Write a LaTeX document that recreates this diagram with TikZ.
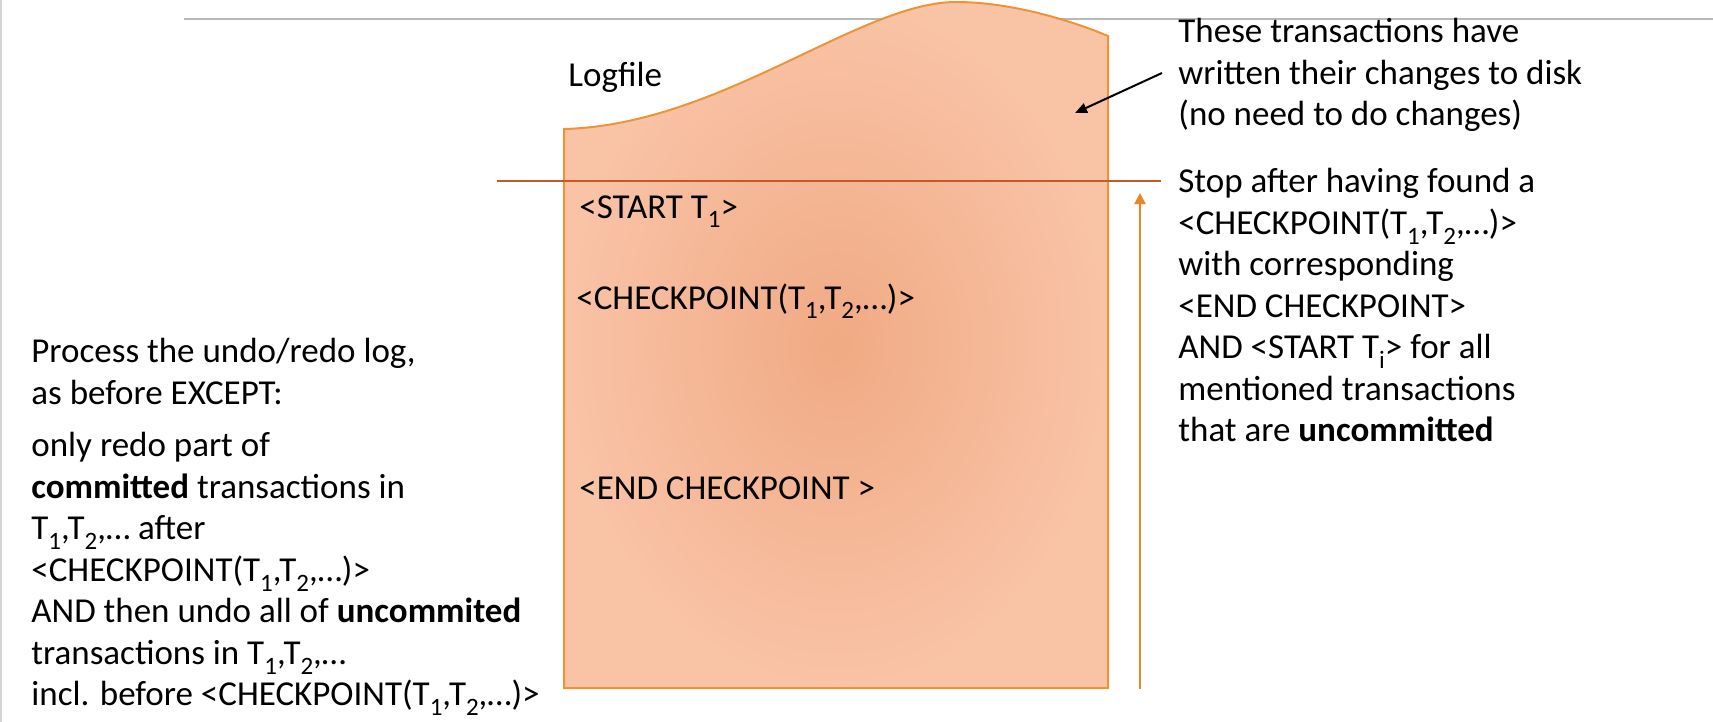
\documentclass[tikz,border=0pt]{standalone}
\usepackage{fontspec}
\setmainfont{Carlito}
\usetikzlibrary{arrows.meta}
\definecolor{logfill}{RGB}{249,195,166}
\definecolor{logcore}{RGB}{240,170,132}
\definecolor{logedge}{RGB}{238,148,55}
\definecolor{cutbrown}{RGB}{197,90,40}
\definecolor{scanorange}{RGB}{234,134,38}
\definecolor{rulegray}{RGB}{185,185,185}
\newcommand{\tsub}[1]{\raisebox{-0.28em}{\fontsize{12.5}{12}\selectfont #1}}
\newcommand{\ckpt}{<CHECKPOINT(T\tsub{1},T\tsub{2},…)>}

\begin{document}
\begin{tikzpicture}[x=0.5pt, y=-0.5pt,
  txt/.style={anchor=north west, inner sep=0pt, align=left,
              font=\fontsize{17.5}{20.75}\selectfont},
  cutline/.style={cutbrown, line width=1.1pt},
  scanarrow/.style={-{Triangle[length=5.5pt, width=5.5pt]}, scanorange, line width=1pt},
  notearrow/.style={-{Triangle[length=6pt, width=5pt]}, black, line width=1pt},
]
  \useasboundingbox (0,0) rectangle (1713,722);
  % slide frame
  \draw[rulegray, line width=1pt] (184,19) -- (1713,19);
  \draw[rulegray!60, line width=1pt] (1,0) -- (1,722);
  % the log file
  \path[draw=logedge, line width=1pt, inner color=logcore, outer color=logfill]
    (564,688) -- (564,129)
    .. controls (720,125) and (860,2) .. (956,2)
    .. controls (1010,2) and (1070,20) .. (1108,36)
    -- (1108,688) -- cycle;
  \node[txt] (logname) at (568,62) {Logfile};
  \node[txt] (start) at (579,195) {<START T\tsub{1}>};
  \node[txt] (ckpt) at (576,283) {\ckpt};
  \node[txt] (endckpt) at (579,476) {<END CHECKPOINT >};
  % cut and scan direction
  \coordinate (cutL) at (497,181);
  \coordinate (cutR) at (1161,181);
  \draw[cutline] (cutL) -- (cutR);
  \coordinate (scanB) at (1140,689);
  \coordinate (scanT) at (1140,193);
  \draw[scanarrow] (scanB) -- (scanT);
  % notes on the right
  \node[txt] (written) at (1178,18)
    {These transactions have\\
     written their changes to disk\\
     (no need to do changes)};
  \coordinate (noteFrom) at (1162,73);
  \coordinate (noteTip) at (1075,113);
  \draw[notearrow] (noteFrom) -- (noteTip);
  \node[txt] (stop) at (1178,168)
    {Stop after having found a\\
     \ckpt\\
     with corresponding\\
     <END CHECKPOINT>\\
     AND <START T\tsub{i}> for all\\
     mentioned transactions\\
     that are \textbf{uncommitted}};
  % note on the left
  \node[txt] (process) at (31,338)
    {Process the undo/redo log,\\
     as before EXCEPT:\\[5.5pt]
     only redo part of\\
     \textbf{committed} transactions in\\
     T\tsub{1},T\tsub{2},… after\\
     \ckpt\\
     AND then undo all of \textbf{uncommited}\\
     transactions in T\tsub{1},T\tsub{2},…\\
     incl. before \ckpt};
\end{tikzpicture}
\end{document}
